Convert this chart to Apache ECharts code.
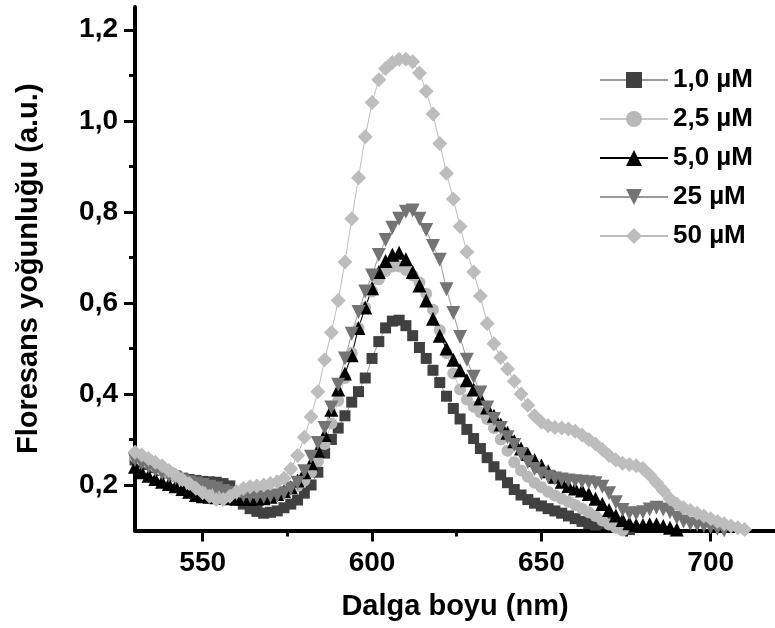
<!DOCTYPE html>
<html>
<head>
<meta charset="utf-8">
<script src="https://cdn.jsdelivr.net/npm/echarts@6/dist/echarts.min.js"></script>
<style>
  html, body { margin: 0; padding: 0; background: #fff; }
  #chart { width: 775px; height: 628px; }
</style>
</head>
<body>
<div id="chart"></div>
<script>
// Emission spectra, sampled every 2 nm
const wavelength = [
  530,532,534,536,538,540,542,544,546,548,550,552,554,556,558,560,562,564,566,568,
  570,572,574,576,578,580,582,584,586,588,590,592,594,596,598,600,602,604,606,608,
  610,612,614,616,618,620,622,624,626,628,630,632,634,636,638,640,642,644,646,648,
  650,652,654,656,658,660,662,664,666,668,670,672,674,676,678,680,682,684,686,688,
  690,692,694,696,698,700,702,704,706,708,710
];

const conc1_0 = [
  0.255,0.250,0.245,0.238,0.232,0.226,0.220,0.215,0.212,0.210,0.208,0.207,0.206,0.203,0.198,0.175,0.158,0.148,0.142,0.138,
  0.140,0.143,0.150,0.158,0.167,0.182,0.200,0.228,0.270,0.300,0.325,0.352,0.382,0.405,0.435,0.478,0.515,0.545,0.560,0.562,
  0.550,0.528,0.502,0.478,0.452,0.425,0.395,0.368,0.345,0.322,0.302,0.280,0.260,0.240,0.222,0.205,0.190,0.178,0.168,0.160,
  0.154,0.148,0.143,0.138,0.132,0.126,0.120,0.115,0.112,0.115,0.118,0.114,0.108,0.102,0.096,0.092,null,null,null,null,
  null,null,null,null,null,null,null,null,null,null,null
];

const conc2_5 = [
  0.262,0.255,0.248,0.240,0.232,0.225,0.218,0.210,0.203,0.197,0.192,0.188,0.184,0.180,0.177,0.175,0.173,0.172,0.172,0.173,
  0.175,0.178,0.183,0.190,0.198,0.210,0.228,0.252,0.290,0.335,0.385,0.435,0.490,0.545,0.590,0.625,0.652,0.670,0.680,0.680,
  0.672,0.660,0.645,0.620,0.585,0.540,0.490,0.445,0.410,0.388,0.372,0.360,0.345,0.325,0.300,0.275,0.250,0.232,0.218,0.205,
  0.195,0.185,0.177,0.170,0.163,0.156,0.148,0.140,0.132,0.122,0.113,0.106,0.100,0.095,null,null,null,null,null,null,
  null,null,null,null,null,null,null,null,null,null,null
];

const conc5_0 = [
  0.240,0.228,0.220,0.213,0.207,0.202,0.197,0.191,0.185,0.178,0.175,0.174,0.173,0.172,0.171,0.170,0.170,0.170,0.170,0.171,
  0.174,0.180,0.187,0.195,0.210,0.228,0.248,0.275,0.310,0.365,0.410,0.445,0.485,0.545,0.590,0.632,0.668,0.692,0.706,0.710,
  0.696,0.668,0.638,0.605,0.565,0.528,0.500,0.475,0.452,0.430,0.410,0.390,0.370,0.352,0.333,0.315,0.296,0.280,0.268,0.255,
  0.243,0.230,0.218,0.207,0.198,0.192,0.188,0.180,0.170,0.158,0.145,0.133,0.123,0.116,0.112,0.112,0.114,0.114,0.110,0.106,
  0.102,0.097,null,null,null,null,null,null,null,null,null
];

const conc25 = [
  0.255,0.248,0.240,0.233,0.226,0.220,0.215,0.210,0.206,0.203,0.200,0.196,0.192,0.187,0.183,0.180,0.177,0.175,0.174,0.174,
  0.175,0.177,0.182,0.192,0.205,0.230,0.262,0.292,0.325,0.370,0.420,0.478,0.532,0.580,0.625,0.660,0.705,0.738,0.765,0.785,
  0.800,0.803,0.785,0.760,0.725,0.695,0.630,0.578,0.525,0.475,0.438,0.403,0.370,0.345,0.325,0.305,0.288,0.268,0.250,0.235,
  0.225,0.218,0.214,0.212,0.210,0.208,0.207,0.206,0.204,0.196,0.182,0.162,0.145,0.138,0.137,0.140,0.146,0.150,0.146,0.140,
  0.128,0.120,0.115,0.112,0.110,0.107,0.104,0.100,0.096,null,null
];

const conc50 = [
  0.272,0.266,0.258,0.250,0.242,0.232,0.222,0.212,0.203,0.193,0.183,0.175,0.168,0.168,0.175,0.185,0.192,0.196,0.198,0.200,
  0.203,0.207,0.215,0.235,0.265,0.305,0.350,0.405,0.475,0.535,0.605,0.690,0.785,0.875,0.965,1.040,1.090,1.115,1.128,1.135,
  1.135,1.130,1.105,1.065,1.015,0.950,0.885,0.828,0.768,0.712,0.668,0.615,0.555,0.510,0.480,0.455,0.428,0.400,0.375,0.352,
  0.338,0.330,0.326,0.325,0.323,0.318,0.310,0.300,0.290,0.278,0.265,0.255,0.248,0.245,0.242,0.236,0.222,0.205,0.188,0.170,
  0.158,0.150,0.144,0.138,0.132,0.126,0.120,0.115,0.110,0.106,0.102
];

const seriesNames = ['1,0 µM', '2,5 µM', '5,0 µM', '25 µM', '50 µM'];
const xMajorTicks = [550, 600, 650, 700];
const xMinorTicks = [575, 625, 675];
const yMajorTicks = [0.2, 0.4, 0.6, 0.8, 1.0, 1.2];
const yMinorTicks = [0.3, 0.5, 0.7, 0.9, 1.1];

const pairs = (vals) => {
  const out = [];
  vals.forEach((v, i) => { if (v !== null) out.push([wavelength[i], v]); });
  return out;
};

const downTriangle = 'path://M0,0 L10,0 L5,9 Z';

const styles = [
  { values: conc1_0, symbol: 'rect',       size: 11, color: '#404040', line: '#9a9a9a' },
  { values: conc2_5, symbol: 'circle',     size: 12, color: '#b8b8b8', line: '#c8c8c8' },
  { values: conc5_0, symbol: 'triangle',   size: 14, color: '#000000', line: '#000000' },
  { values: conc25,  symbol: downTriangle, size: 14, color: '#747474', line: '#9a9a9a' },
  { values: conc50,  symbol: 'diamond',    size: 15, color: '#bdbdbd', line: '#bdbdbd' }
];

const fontFamily = '"Liberation Sans", Arial, sans-serif';
const commaFmt = (v) => v.toFixed(1).replace('.', ',');

const chart = echarts.init(document.getElementById('chart'), null, { renderer: 'canvas' });

chart.setOption({
  animation: false,
  backgroundColor: '#ffffff',
  grid: { left: 135, right: 0, top: 7, bottom: 97.5, containLabel: false },
  legend: {
    data: seriesNames,
    orient: 'vertical',
    left: 594,
    top: 62,
    itemWidth: 68,
    itemHeight: 20,
    itemGap: 13,
    textStyle: { fontFamily, fontSize: 26, fontWeight: 'bold', color: '#000', lineHeight: 20 }
  },
  xAxis: [
    {
      type: 'value', min: 530, max: 719, position: 'bottom',
      name: 'Dalga boyu (nm)', nameLocation: 'middle', nameGap: 62,
      nameTextStyle: { fontFamily, fontSize: 29, fontWeight: 'bold', color: '#000' },
      axisLine: { show: true, onZero: false, lineStyle: { color: '#000', width: 4 } },
      axisTick: { show: true, customValues: xMajorTicks, length: 11, lineStyle: { color: '#000', width: 3 } },
      axisLabel: { show: true, customValues: xMajorTicks, margin: 19, fontFamily, fontSize: 28, fontWeight: 'bold', color: '#000' },
      splitLine: { show: false }
    },
    {
      type: 'value', min: 530, max: 719, position: 'bottom',
      axisLine: { show: false },
      axisTick: { show: true, customValues: xMinorTicks, length: 6, lineStyle: { color: '#000', width: 3 } },
      axisLabel: { show: false },
      splitLine: { show: false }
    }
  ],
  yAxis: [
    {
      type: 'value', min: 0.1, max: 1.25, position: 'left',
      name: 'Floresans yoğunluğu (a.u.)', nameLocation: 'middle', nameGap: 92,
      nameTextStyle: { fontFamily, fontSize: 29, fontWeight: 'bold', color: '#000' },
      axisLine: { show: true, onZero: false, lineStyle: { color: '#000', width: 4 } },
      axisTick: { show: true, customValues: yMajorTicks, length: 11, lineStyle: { color: '#000', width: 3 } },
      axisLabel: { show: true, customValues: yMajorTicks, margin: 17, formatter: commaFmt, fontFamily, fontSize: 28, fontWeight: 'bold', color: '#000' },
      splitLine: { show: false }
    },
    {
      type: 'value', min: 0.1, max: 1.25, position: 'left',
      axisLine: { show: false },
      axisTick: { show: true, customValues: yMinorTicks, length: 6, lineStyle: { color: '#000', width: 3 } },
      axisLabel: { show: false },
      splitLine: { show: false }
    }
  ],
  series: styles.map((s, i) => ({
    name: seriesNames[i],
    type: 'line',
    xAxisIndex: 0,
    yAxisIndex: 0,
    data: pairs(s.values),
    symbol: s.symbol,
    symbolSize: s.size,
    showSymbol: true,
    showAllSymbol: true,
    clip: true,
    itemStyle: { color: s.color, borderWidth: 0 },
    lineStyle: { color: s.line, width: 1 },
    emphasis: { disabled: true }
  }))
});
</script>
</body>
</html>
